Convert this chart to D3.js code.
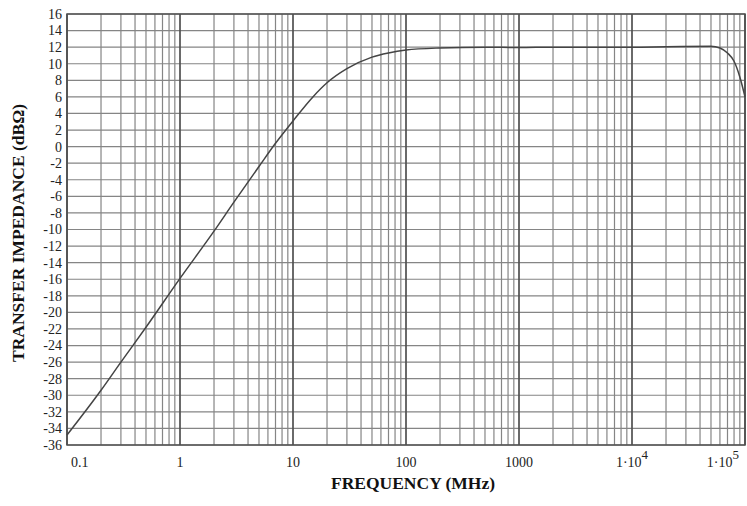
<!DOCTYPE html>
<html><head><meta charset="utf-8">
<script src="https://cdn.jsdelivr.net/npm/d3@7"></script>
<style>body{margin:0;background:#fff}svg{display:block}</style>
</head><body>
<svg id="c" width="747" height="506"></svg>
<script>
const freqs = [0.1,0.2,0.3,0.5,1,2,3,5,7,10,15,20,30,50,70,100,200,500,1000,2000,5000,1e4,2e4,5e4,6e4,7e4,8e4,9e4,1e5];
const zt = [-34.8,-29.4,-26.0,-21.8,-15.9,-10.2,-6.7,-2.4,0.4,3.1,6.0,7.7,9.4,10.8,11.3,11.65,11.9,12.0,11.95,12.0,12.0,12.0,12.05,12.1,11.9,11.3,10.3,8.4,6.0];
const yTicks = d3.range(-36, 17, 2);
const decades = [0.1,1,10,100,1000,1e4,1e5];
const xTickLabels = ["0.1","1","10","100","1000","1·10^4","1·10^5"];

const svg = d3.select("#c");
const L=67, R=745, T=14, B=445;
const x = d3.scaleLog().domain([0.1,1e5]).range([L,R]);
const y = d3.scaleLinear().domain([-36,16]).range([B,T]);
const serif = "'Liberation Serif','DejaVu Serif',serif";

// minor vertical grid
const minor = [];
decades.slice(0,-1).forEach(d=>{ for(let k=2;k<=9;k++) minor.push(d*k); });
svg.append("g").selectAll("line").data(minor).join("line")
  .attr("x1",d=>x(d)).attr("x2",d=>x(d)).attr("y1",T).attr("y2",B)
  .attr("stroke","#858585").attr("stroke-width",1.2);
// horizontal grid
svg.append("g").selectAll("line").data(yTicks).join("line")
  .attr("x1",L).attr("x2",R).attr("y1",d=>y(d)).attr("y2",d=>y(d))
  .attr("stroke","#858585").attr("stroke-width",1.2);
// decade lines
svg.append("g").selectAll("line").data(decades).join("line")
  .attr("x1",d=>x(d)).attr("x2",d=>x(d)).attr("y1",T).attr("y2",B)
  .attr("stroke","#505050").attr("stroke-width",1.7);
// border
svg.append("rect").attr("x",L).attr("y",T).attr("width",R-L).attr("height",B-T)
  .attr("fill","none").attr("stroke","#505050").attr("stroke-width",1.5);

// curve
const line = d3.line().x(d=>x(d[0])).y(d=>y(d[1])).curve(d3.curveMonotoneX);
svg.append("path").datum(freqs.map((f,i)=>[f,zt[i]])).attr("d",line)
  .attr("fill","none").attr("stroke","#444").attr("stroke-width",1.5);

// y tick labels
svg.append("g").selectAll("text").data(yTicks).join("text")
  .attr("x",L-5).attr("y",d=>y(d)).attr("dy","0.35em").attr("text-anchor","end")
  .attr("font-family",serif).attr("font-size",14).attr("fill","#222")
  .text(d=>d);

// x tick labels
const xl = svg.append("g").attr("font-family",serif).attr("font-size",14).attr("fill","#222");
decades.forEach((d,i)=>{
  const lab = xTickLabels[i];
  let anchor = "middle", xx = x(d);
  if(i===0){anchor="start"; xx = x(d)+4;}
  if(i===decades.length-1){anchor="end"; xx = x(d)-6;}
  const t = xl.append("text").attr("x",xx).attr("y",467).attr("text-anchor",anchor);
  if(lab.includes("^")){
    const [base,exp] = lab.split("^");
    t.append("tspan").text(base);
    t.append("tspan").attr("dy",-8).attr("font-size",13).text(exp);
  } else t.text(lab);
});

// axis titles
svg.append("text").attr("x",413).attr("y",489).attr("text-anchor","middle")
  .attr("font-family",serif).attr("font-size",17.5).attr("font-weight","bold").attr("fill","#111")
  .text("FREQUENCY (MHz)");
svg.append("text").attr("transform","translate(24,233) rotate(-90)").attr("text-anchor","middle")
  .attr("font-family",serif).attr("font-size",17.5).attr("font-weight","bold").attr("fill","#111")
  .text("TRANSFER IMPEDANCE (dBΩ)");
</script>
</body></html>
